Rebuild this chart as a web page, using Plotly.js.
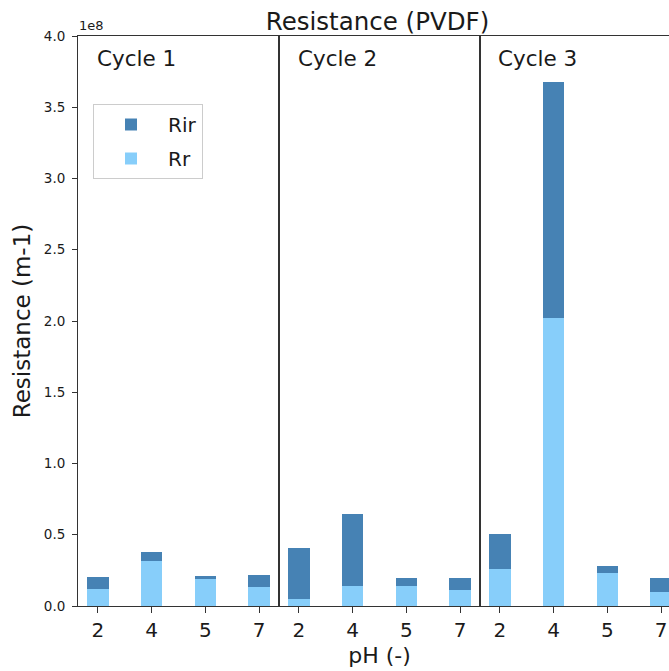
<!DOCTYPE html>
<html>
<head>
<meta charset="utf-8">
<script src="https://cdn.plot.ly/plotly-3.0.1.min.js"></script>
<style>
  html, body { margin: 0; padding: 0; background: #fff; overflow: hidden; }
  #chart { width: 669px; height: 671px; }
</style>
</head>
<body>
<div id="chart"></div>
<script>
// pH categories (x tick labels of each panel)
const phLabels = ['2', '4', '5', '7'];
const cycleNames = ['Cycle 1', 'Cycle 2', 'Cycle 3'];

// Reversible resistance Rr (m-1), per cycle
const rrCycle1 = [0.121e8, 0.313e8, 0.187e8, 0.131e8];
const rrCycle2 = [0.047e8, 0.143e8, 0.143e8, 0.110e8];
const rrCycle3 = [0.260e8, 2.019e8, 0.229e8, 0.098e8];

// Irreversible resistance Rir (m-1), stacked on top of Rr, per cycle
const rirCycle1 = [0.085e8, 0.064e8, 0.021e8, 0.084e8];
const rirCycle2 = [0.362e8, 0.500e8, 0.051e8, 0.084e8];
const rirCycle3 = [0.245e8, 1.656e8, 0.052e8, 0.096e8];

// y tick labels (scaled by 1e8)
const yTickVals = [0, 0.5e8, 1.0e8, 1.5e8, 2.0e8, 2.5e8, 3.0e8, 3.5e8, 4.0e8];
const yTickText = ['0.0', '0.5', '1.0', '1.5', '2.0', '2.5', '3.0', '3.5', '4.0'];

const rrSets = [rrCycle1, rrCycle2, rrCycle3];
const rirSets = [rirCycle1, rirCycle2, rirCycle3];

const COLOR_RR = '#87cefa';
const COLOR_RIR = '#4682b4';
const FONT = 'DejaVu Sans, Verdana, sans-serif';
const TXT = '#1a1a1a';
const AX = '#333333';

const traces = [];
for (let i = 0; i < 3; i++) {
  const xa = i === 0 ? 'x' : 'x' + (i + 1);
  const ya = i === 0 ? 'y' : 'y' + (i + 1);
  traces.push({
    type: 'bar', name: 'Rr', x: phLabels, y: rrSets[i],
    xaxis: xa, yaxis: ya, width: 0.4,
    marker: { color: COLOR_RR, line: { width: 0 } },
    legendgroup: 'Rr', showlegend: i === 0, legendrank: 2
  });
  traces.push({
    type: 'bar', name: 'Rir', x: phLabels, y: rirSets[i],
    xaxis: xa, yaxis: ya, width: 0.4,
    marker: { color: COLOR_RIR, line: { width: 0 } },
    legendgroup: 'Rir', showlegend: i === 0, legendrank: 1
  });
}

const plotW = 591, panelW = 201;
const d1 = panelW / plotW, d2 = 2 * panelW / plotW;
const unitsPerPx = 3.74 / panelW;
const xRangeFull = [-0.37, 3.37];
const xRangeCut = [-0.37, -0.37 + (plotW - 2 * panelW) * unitsPerPx];

function xAxis(domain, range, extra) {
  return Object.assign({
    domain: domain, range: range, type: 'category',
    categoryorder: 'array', categoryarray: phLabels,
    showline: true, linecolor: AX, linewidth: 1, mirror: true,
    ticks: 'outside', ticklen: 6, tickwidth: 1, tickcolor: AX,
    tickfont: { family: FONT, size: 20, color: TXT },
    showgrid: false, zeroline: false, fixedrange: true
  }, extra || {});
}
function yAxis(anchor, extra) {
  return Object.assign({
    anchor: anchor, range: [0, 4e8],
    showline: true, linecolor: AX, linewidth: 1,
    showgrid: false, zeroline: false, fixedrange: true
  }, extra || {});
}

const layout = {
  width: 669, height: 671,
  margin: { l: 78, r: 0, t: 36, b: 65, pad: 0 },
  paper_bgcolor: '#ffffff', plot_bgcolor: '#ffffff',
  font: { family: FONT, color: TXT },
  barmode: 'stack', bargap: 0,
  showlegend: true,
  title: {
    text: 'Resistance (PVDF)',
    font: { family: FONT, size: 24.5, color: TXT },
    x: 377.5 / 669, xref: 'container', xanchor: 'center',
    y: 1 - 21 / 671, yref: 'container', yanchor: 'middle'
  },
  legend: {
    x: 15 / plotW, xanchor: 'left', y: 1 - 68 / 570, yanchor: 'top',
    bgcolor: '#ffffff', bordercolor: '#cccccc', borderwidth: 1,
    font: { family: FONT, size: 20, color: TXT },
    traceorder: 'grouped', tracegroupgap: 5, itemwidth: 64
  },
  xaxis: xAxis([0, d1], xRangeFull, { anchor: 'y' }),
  xaxis2: xAxis([d1, d2], xRangeFull, {
    anchor: 'y2',
    title: { text: 'pH (-)', font: { family: FONT, size: 22, color: TXT }, standoff: 6 }
  }),
  xaxis3: xAxis([d2, 1], xRangeCut, { anchor: 'y3' }),
  yaxis: yAxis('x', {
    mirror: true,
    tickmode: 'array', tickvals: yTickVals, ticktext: yTickText,
    ticks: 'outside', ticklen: 5, tickwidth: 1, tickcolor: AX,
    ticklabelstandoff: 4,
    tickfont: { family: FONT, size: 13.5, color: TXT },
    title: { text: 'Resistance (m-1)', font: { family: FONT, size: 23, color: TXT }, standoff: 6 }
  }),
  yaxis2: yAxis('x2', { mirror: true, showticklabels: false, ticks: '' }),
  yaxis3: yAxis('x3', { mirror: false, showticklabels: false, ticks: '' }),
  annotations: [
    {
      text: '1e8', xref: 'paper', yref: 'paper', x: 0, y: 1,
      xanchor: 'left', yanchor: 'bottom', showarrow: false,
      font: { family: FONT, size: 13, color: TXT }, yshift: 1, xshift: -1
    }
  ].concat(cycleNames.map((name, i) => ({
    text: name, xref: (i === 0 ? 'x' : 'x' + (i + 1)) + ' domain', yref: 'paper',
    x: 19 / panelW, y: 1 - 22 / 570, xanchor: 'left', yanchor: 'middle',
    showarrow: false, font: { family: FONT, size: 21.5, color: TXT }, xshift: -2
  })))
};

Plotly.newPlot('chart', traces, layout, { displayModeBar: false, staticPlot: true });
</script>
</body>
</html>
